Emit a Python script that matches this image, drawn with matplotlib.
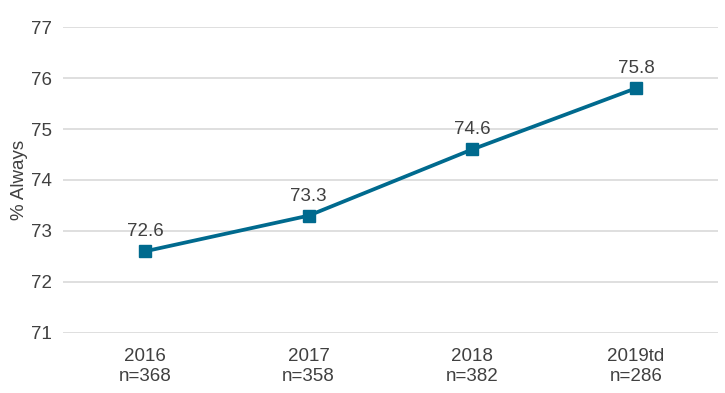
import matplotlib.pyplot as plt

years = ["2016", "2017", "2018", "2019td"]
counts = ["n=368", "n=358", "n=382", "n=286"]
always_pct = [72.6, 73.3, 74.6, 75.8]

plt.rcParams['font.family'] = ['Liberation Sans', 'DejaVu Sans']
txt_color = '#404040'
line_color = '#006A8E'

fig = plt.figure(figsize=(7.25, 3.93), dpi=100)
ax = fig.add_axes([0.087, 0.153, 0.903, 0.778])

x = range(len(years))
ax.plot(x, always_pct, color=line_color, lw=2.7, marker='s', markersize=8, zorder=3)
for xi, v in zip(x, always_pct):
    ax.annotate(f"{v:.1f}", (xi, v), xytext=(0, 8), textcoords='offset points',
                ha='center', va='bottom', fontsize=13.5, color=txt_color)

ax.set_xlim(-0.5, len(years) - 0.5)
ax.set_ylim(71, 77)
ax.set_yticks(range(71, 78))
ax.set_xticks(list(x))
ax.set_xticklabels([f"{y}\n{n}" for y, n in zip(years, counts)], linespacing=1.25)
ax.tick_params(axis='both', length=0, labelsize=13.5, labelcolor=txt_color)
ax.tick_params(axis='x', pad=11)
ax.tick_params(axis='y', pad=8)
ax.grid(axis='y', color='#D9D9D9', lw=1.2)
ax.set_axisbelow(True)
for s in ax.spines.values():
    s.set_visible(False)
ax.set_ylabel("% Always", fontsize=13.5, color=txt_color, labelpad=2)

fig.savefig("out.png", dpi=100)
